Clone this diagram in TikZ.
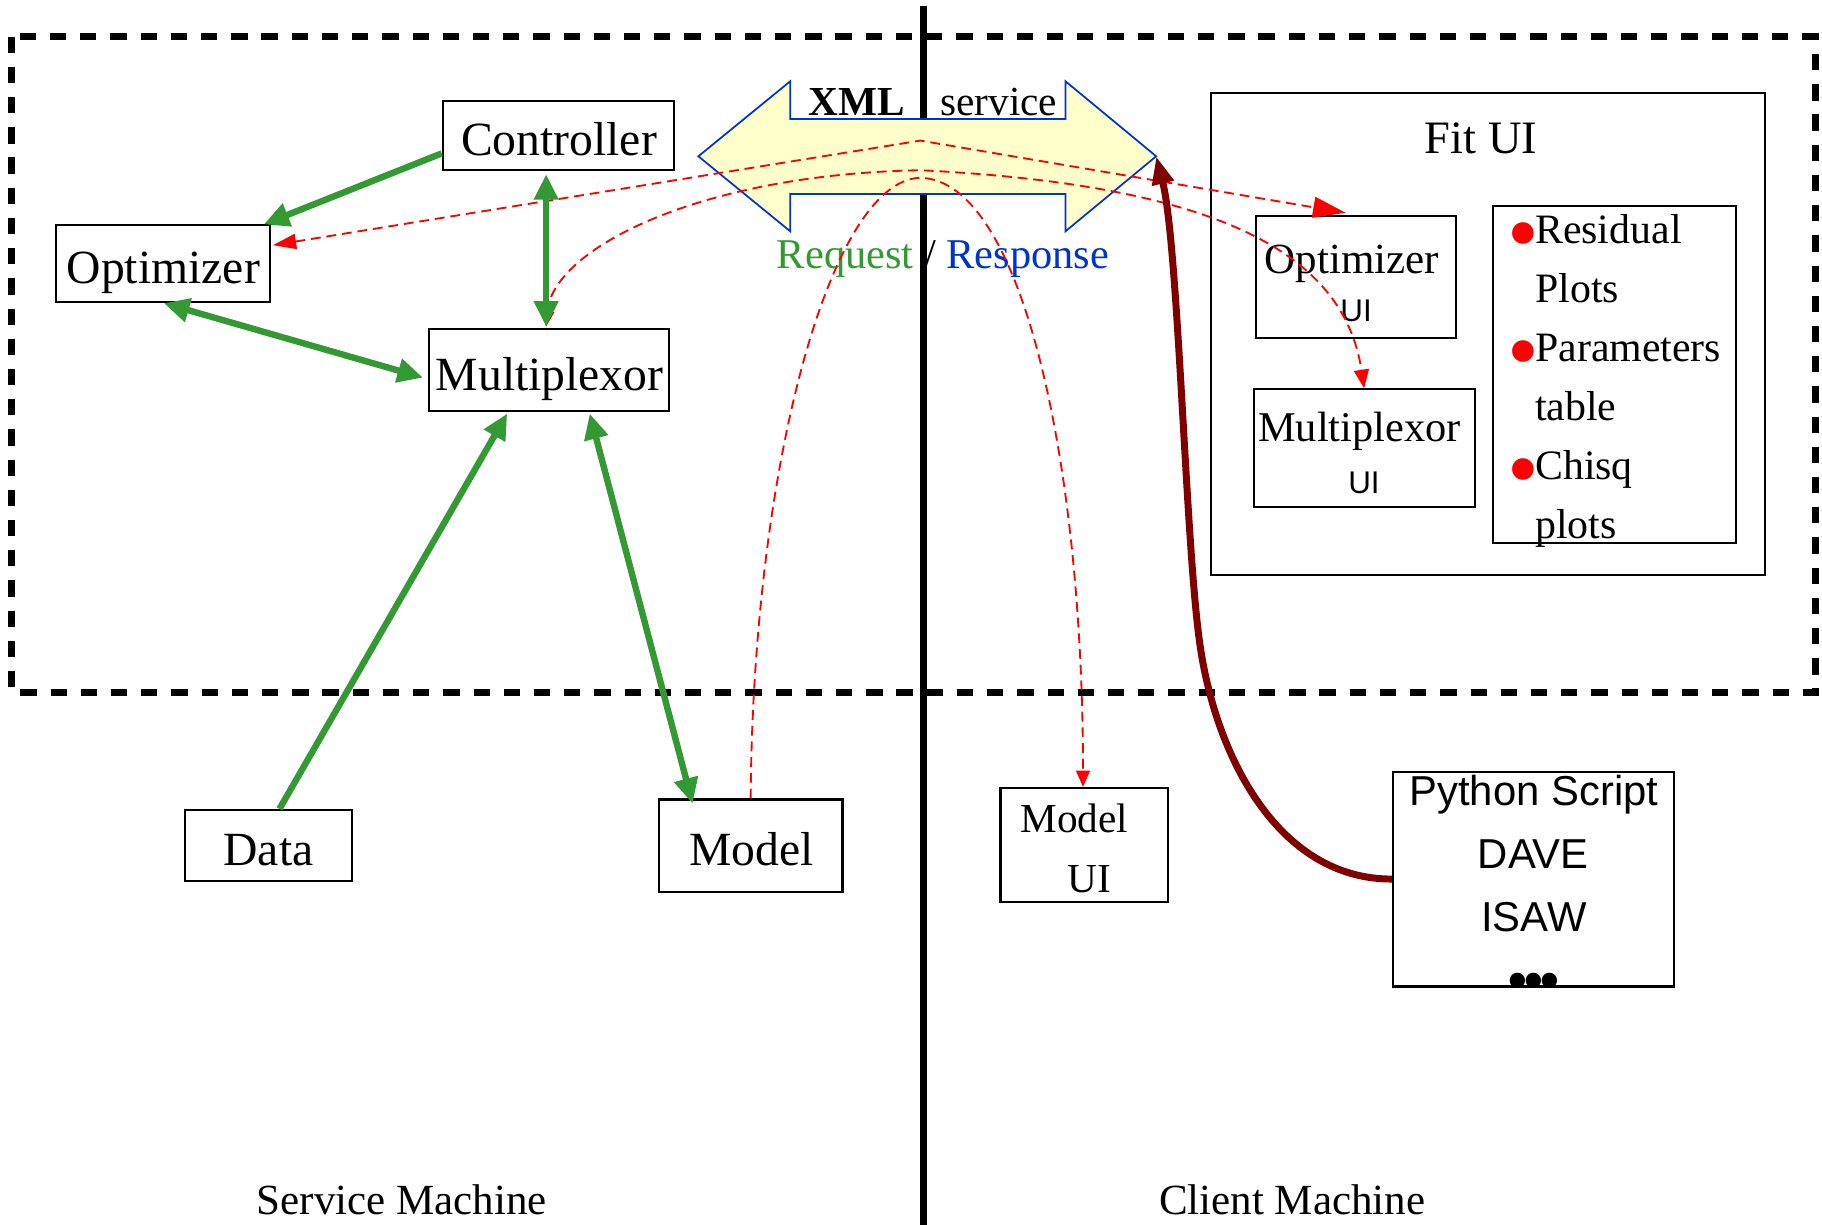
\documentclass[tikz,border=0pt]{standalone}
\usepackage{fontspec}
\setmainfont{Liberation Serif}
\setsansfont{Liberation Sans}
\usetikzlibrary{arrows.meta}
\definecolor{grn}{HTML}{339933}
\definecolor{blu}{HTML}{0033CC}
\definecolor{ylw}{HTML}{FFFFCC}
\definecolor{mrn}{HTML}{800000}
\newcommand\myfs[1]{\fontsize{#1pt}{#1pt}\selectfont}
\begin{document}
\begin{tikzpicture}[x=1pt,y=-1pt,
  box/.style={draw=black,line width=1.8pt,inner sep=0pt},
  lbl/.style={inner sep=0pt,anchor=base},
  garrow/.style={draw=grn,line width=5.5pt},
  gtip/.tip={Triangle[length=22pt,width=20pt]},
  rdash/.style={draw=red,line width=1.6pt,dash pattern=on 8.5pt off 5pt},
  bul/.style={inner sep=0pt,anchor=base,text=red,font=\myfs{78}}]
\useasboundingbox (0,0) rectangle (1568,1053.4);
% machine divider
\draw[line width=6pt] (794.5,5) -- (794.5,1070);
% outer dashed frame
\draw[line width=6pt,dash pattern=on 14pt off 12pt] (10,31.5) rectangle (1562,596);
% XML double arrow
\draw[draw=blu,fill=ylw,line width=1.5pt,line join=miter]
  (601,134.5) -- (680,70) -- (680,102.5) -- (917,102.5) -- (917,70) -- (995,134.5)
  -- (917,199) -- (917,167) -- (680,167) -- (680,199) -- cycle;
\coordinate (xmltip) at (995,134.5);
\node[lbl,font=\bfseries\myfs{35.5}] (xml) at (737.2,99) {XML};
\node[lbl,font=\myfs{35.5}] (svc) at (859.6,99) {service};
\node[lbl,anchor=base west,font=\myfs{36.5}] (reqresp) at (668.4,231)
  {\textcolor{grn}{Request} / \textcolor{blu}{Response}};
% service side boxes
\node[box,minimum width=199pt,minimum height=59pt] (ctrl) at (480.5,116.5) {};
\node[lbl,font=\myfs{41}] (ctrlt) at (481,133.4) {Controller};
\node[box,minimum width=184pt,minimum height=66pt] (opt) at (140,227) {};
\node[lbl,font=\myfs{41}] (optt) at (140.5,244.4) {Optimizer};
\node[box,minimum width=207pt,minimum height=71pt] (mux) at (472.5,318.5) {};
\node[lbl,font=\myfs{41}] (muxt) at (473,336.2) {Multiplexor};
\node[box,minimum width=144pt,minimum height=61pt] (data) at (231,727.5) {};
\node[lbl,font=\myfs{41}] (datat) at (231,744.5) {Data};
\node[box,minimum width=158pt,minimum height=80pt] (model) at (646,728) {};
\node[lbl,font=\myfs{41}] (modelt) at (647,744.5) {Model};
% client side boxes
\node[box,minimum width=144pt,minimum height=98pt] (modelui) at (933,727) {};
\node[lbl,font=\myfs{35.5}] (modeluit1) at (924.5,716.6) {Model};
\node[lbl,font=\myfs{35.5}] (modeluit2) at (937.7,768.2) {UI};
\node[box,minimum width=242pt,minimum height=185pt] (py) at (1320,756.5) {};
\node[lbl,font=\sffamily\myfs{36}] (pyt1) at (1320,693) {Python Script};
\node[lbl,font=\sffamily\myfs{36}] (pyt2) at (1319.5,747.3) {DAVE};
\node[lbl,font=\sffamily\myfs{36}] (pyt3) at (1320,802) {ISAW};
\node[lbl,font=\sffamily\bfseries\myfs{46}] (pyt4) at (1320,859) {•\kern-2.5pt•\kern-2.5pt•};
\node[box,minimum width=477pt,minimum height=415pt] (fitui) at (1280.5,287.5) {};
\node[lbl,font=\myfs{40}] (fituit) at (1274.6,132.5) {Fit UI};
\node[box,minimum width=172pt,minimum height=105pt] (optui) at (1167,238.5) {};
\node[lbl,font=\myfs{37}] (optuit1) at (1163.6,235.2) {Optimizer};
\node[lbl,font=\sffamily\myfs{27}] (optuit2) at (1167,276.8) {UI};
\node[box,minimum width=190pt,minimum height=101pt] (muxui) at (1174,385.5) {};
\node[lbl,font=\myfs{36.5}] (muxuit1) at (1170,380) {Multiplexor};
\node[lbl,font=\sffamily\myfs{27}] (muxuit2) at (1173.8,424.6) {UI};
\node[box,minimum width=209pt,minimum height=290pt] (plots) at (1389.5,322) {};
\node[lbl,anchor=base west,font=\myfs{36}] (l1) at (1321,209.4) {Residual};
\node[lbl,anchor=base west,font=\myfs{36}] (l2) at (1321,260.2) {Plots};
\node[lbl,anchor=base west,font=\myfs{36}] (l3) at (1321,311) {Parameters};
\node[lbl,anchor=base west,font=\myfs{36}] (l4) at (1321,361.8) {table};
\node[lbl,anchor=base west,font=\myfs{36}] (l5) at (1321,412.6) {Chisq};
\node[lbl,anchor=base west,font=\myfs{36}] (l6) at (1321,463.4) {plots};
\node[bul] (b1) at (1311,226.4) {•};
\node[bul] (b3) at (1311,328) {•};
\node[bul] (b5) at (1311,429.6) {•};
% bottom labels
\node[lbl,font=\myfs{37}] (svm) at (345.8,1045.5) {Service Machine};
\node[lbl,font=\myfs{37}] (clm) at (1112,1045.5) {Client Machine};
% red dashed request/response paths
\coordinate (pk1) at (792,121);
\coordinate (pk2) at (792,146.5);
\coordinate (pk3) at (792,153);
\draw[rdash,{Triangle[length=20pt,width=13pt]}-{Triangle[length=28pt,width=18pt]}]
  ([shift={(2,-16)}]opt.east) -- (pk1) -- ([shift={(-9,-2)}]optui.north);
\draw[rdash,{Triangle[length=13pt,width=12pt]}-{Triangle[length=16pt,width=13pt]}]
  ([shift={(-2.5,-1)}]mux.north) .. controls (475,215) and (600,150) .. (pk2)
  .. controls (1042,159) and (1156,215) .. (muxui.north);
\draw[rdash,-{Triangle[length=14pt,width=12pt]}]
  (model.north) .. controls (648,400) and (715,155) .. (pk3)
  .. controls (880,155) and (932,400) .. ([shift={(-1,0)}]modelui.north);
% green connectors
\draw[garrow,-gtip] ([shift={(0,15.5)}]ctrl.west) -- ([shift={(-6,0)}]opt.north east);
\draw[garrow,gtip-gtip] ([shift={(-10.5,3)}]ctrl.south) -- ([shift={(-2.5,-1)}]mux.north);
\draw[garrow,gtip-gtip] ([shift={(1,0)}]opt.south) -- ([shift={(-4,6.5)}]mux.west);
\draw[garrow,-gtip] ([shift={(9.5,0)}]data.north) -- ([shift={(-36,1)}]mux.south);
\draw[garrow,gtip-gtip] ([shift={(35,1)}]mux.south) -- ([shift={(-50,4.5)}]model.north);
% maroon connector from scripts
\draw[draw=mrn,line width=6pt,-{Triangle[length=24pt,width=18pt]}]
  (py.west) .. controls (1100,757) and (1045,650) .. (1032,550)
  .. controls (1020,460) and (1014,210) .. (xmltip);
\end{tikzpicture}
\end{document}
